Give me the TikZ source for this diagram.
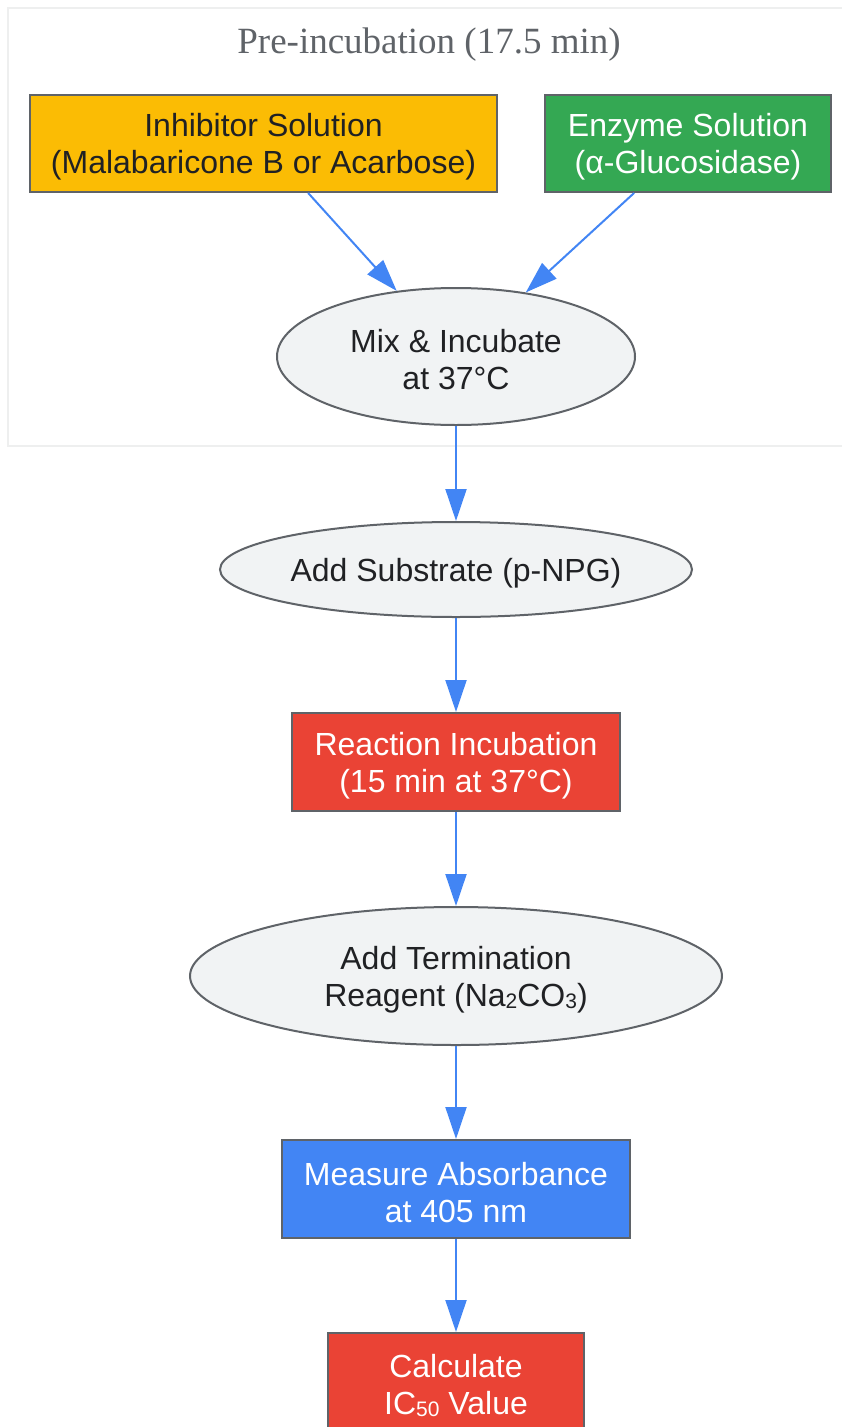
\documentclass[tikz,border=0pt]{standalone}
\usepackage{fontspec}
\setmainfont{Liberation Sans}
\newfontfamily\titlefont{Liberation Serif}
\usetikzlibrary{shapes.geometric,arrows.meta}
\definecolor{edgegray}{HTML}{5F6368}
\definecolor{lightfill}{HTML}{F1F3F4}
\definecolor{clusterline}{HTML}{EEEFEF}
\definecolor{gyellow}{HTML}{FBBC04}
\definecolor{ggreen}{HTML}{34A853}
\definecolor{gred}{HTML}{EA4335}
\definecolor{gblue}{HTML}{4285F4}
\definecolor{darktext}{HTML}{202124}
\newcommand{\smallsub}[1]{\raisebox{-2pt}{\fontsize{21}{21}\selectfont #1}}
\newcommand{\topstrut}{\rule{0pt}{30pt}}
\tikzset{
  base/.style={draw=edgegray, line width=2pt, inner sep=0pt, align=center,
    font=\fontsize{32}{37}\selectfont},
  boxnode/.style={base, rectangle},
  ovalnode/.style={base, ellipse, fill=lightfill, text=darktext},
  arr/.style={draw=gblue, line width=2pt, -{Triangle[length=32pt,width=21pt]}},
  clustertitle/.style={text=edgegray, font=\titlefont\fontsize{37}{40}\selectfont},
}
\begin{document}
\begin{tikzpicture}[x=1pt,y=-1pt]
\useasboundingbox (0,0) rectangle (842,1427);
\begin{scope}
\clip (0,0) rectangle (842,1427);
% cluster
\draw[clusterline, line width=2pt] (8,8) rectangle (860,446);
\node[clustertitle] (title) at (429,45) {Pre-incubation (17.5 min)};
% nodes
\node[boxnode, fill=gyellow, text=darktext, minimum width=467pt, minimum height=97pt] (inh) at (263.5,143.5) {\topstrut Inhibitor Solution\\(Malabaricone B or Acarbose)};
\node[boxnode, fill=ggreen, text=white, minimum width=286pt, minimum height=97pt] (enz) at (688,143.5) {\topstrut Enzyme Solution\\(α-Glucosidase)};
\node[ovalnode, minimum width=358pt, minimum height=137pt] (mix) at (456,356.5) {\topstrut Mix \& Incubate\\at 37°C};
\node[ovalnode, minimum width=472pt, minimum height=95pt] (sub) at (456,569.5) {\topstrut Add Substrate (p-NPG)};
\node[boxnode, fill=gred, text=white, minimum width=328pt, minimum height=98pt] (rxn) at (456,762) {\topstrut Reaction Incubation\\(15 min at 37°C)};
\node[ovalnode, minimum width=532pt, minimum height=138pt] (term) at (456,976) {\topstrut Add Termination\\Reagent (Na\smallsub{2}CO\smallsub{3})};
\node[boxnode, fill=gblue, text=white, minimum width=348pt, minimum height=98pt] (abs) at (456,1189) {\topstrut Measure Absorbance\\at 405 nm};
\node[boxnode, fill=gred, text=white, minimum width=256pt, minimum height=98pt] (calc) at (456,1382) {\topstrut Calculate\\IC\smallsub{50} Value};
% connectors
\draw[arr] (inh) -- (mix);
\draw[arr] (enz) -- (mix);
\draw[arr] (mix) -- (sub);
\draw[arr] (sub) -- (rxn);
\draw[arr] (rxn) -- (term);
\draw[arr] (term) -- (abs);
\draw[arr] (abs) -- (calc);
\end{scope}
\end{tikzpicture}
\end{document}
